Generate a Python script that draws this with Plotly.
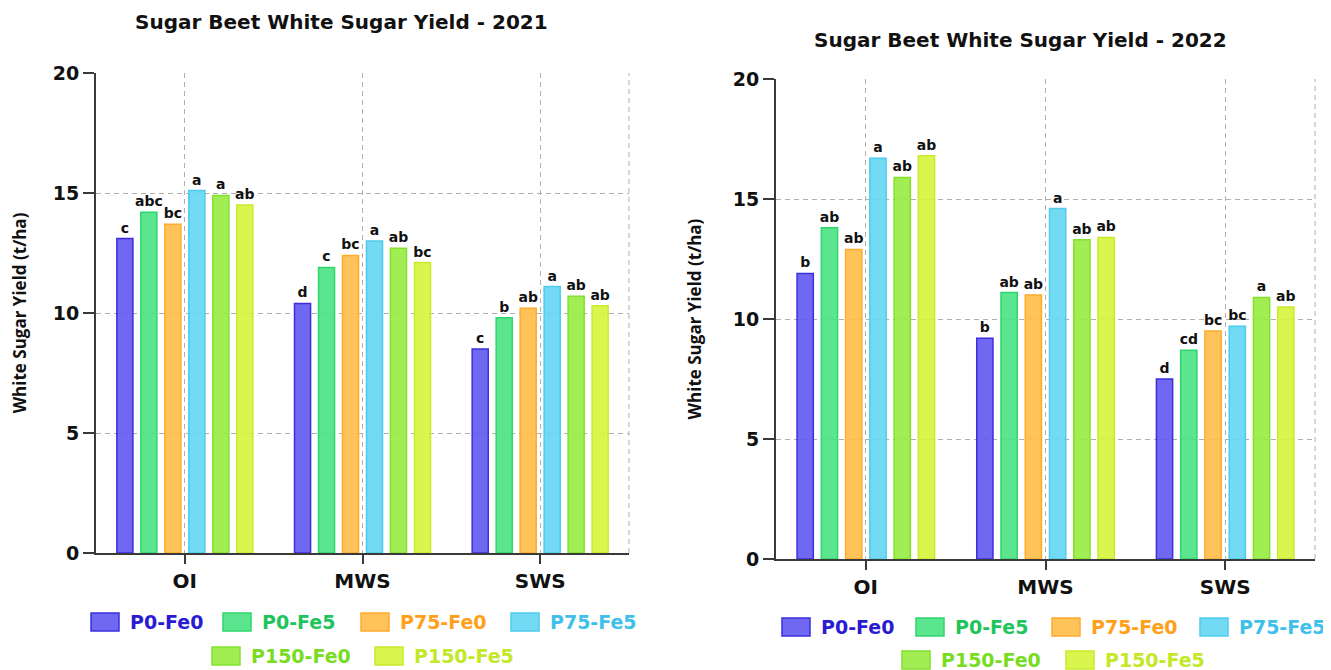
import plotly.graph_objects as go

# page is 1331x670; the html body has an 8px margin, so the figure spans the rest
PAGE_W, PAGE_H = 1331, 670
OFF = 8
W, H = PAGE_W - OFF, PAGE_H - OFF

categories = ["OI", "MWS", "SWS"]
treatments = ["P0-Fe0", "P0-Fe5", "P75-Fe0", "P75-Fe5", "P150-Fe0", "P150-Fe5"]

# 2021 values (t/ha), per treatment across OI, MWS, SWS
y2021_P0_Fe0 = [13.1, 10.4, 8.5]
y2021_P0_Fe5 = [14.2, 11.9, 9.8]
y2021_P75_Fe0 = [13.7, 12.4, 10.2]
y2021_P75_Fe5 = [15.1, 13.0, 11.1]
y2021_P150_Fe0 = [14.9, 12.7, 10.7]
y2021_P150_Fe5 = [14.5, 12.1, 10.3]

# 2022 values (t/ha)
y2022_P0_Fe0 = [11.9, 9.2, 7.5]
y2022_P0_Fe5 = [13.8, 11.1, 8.7]
y2022_P75_Fe0 = [12.9, 11.0, 9.5]
y2022_P75_Fe5 = [16.7, 14.6, 9.7]
y2022_P150_Fe0 = [15.9, 13.3, 10.9]
y2022_P150_Fe5 = [16.8, 13.4, 10.5]

# significance letters
l2021_P0_Fe0 = ["c", "d", "c"]
l2021_P0_Fe5 = ["abc", "c", "b"]
l2021_P75_Fe0 = ["bc", "bc", "ab"]
l2021_P75_Fe5 = ["a", "a", "a"]
l2021_P150_Fe0 = ["a", "ab", "ab"]
l2021_P150_Fe5 = ["ab", "bc", "ab"]

l2022_P0_Fe0 = ["b", "b", "d"]
l2022_P0_Fe5 = ["ab", "ab", "cd"]
l2022_P75_Fe0 = ["ab", "ab", "bc"]
l2022_P75_Fe5 = ["a", "a", "bc"]
l2022_P150_Fe0 = ["ab", "ab", "a"]
l2022_P150_Fe5 = ["ab", "ab", "ab"]

values_2021 = [y2021_P0_Fe0, y2021_P0_Fe5, y2021_P75_Fe0, y2021_P75_Fe5, y2021_P150_Fe0, y2021_P150_Fe5]
values_2022 = [y2022_P0_Fe0, y2022_P0_Fe5, y2022_P75_Fe0, y2022_P75_Fe5, y2022_P150_Fe0, y2022_P150_Fe5]
letters_2021 = [l2021_P0_Fe0, l2021_P0_Fe5, l2021_P75_Fe0, l2021_P75_Fe5, l2021_P150_Fe0, l2021_P150_Fe5]
letters_2022 = [l2022_P0_Fe0, l2022_P0_Fe5, l2022_P75_Fe0, l2022_P75_Fe5, l2022_P150_Fe0, l2022_P150_Fe5]

fill_colors = ["rgba(98,88,240,0.9)", "rgba(72,226,130,0.9)", "rgba(255,188,72,0.9)",
               "rgba(100,214,242,0.9)", "rgba(150,236,64,0.9)", "rgba(214,244,58,0.9)"]
line_colors = ["#3b2fde", "#2fd66e", "#ffab2e", "#4fcbee", "#84e02c", "#c6ec2c"]
text_colors = ["#2a1bd2", "#1fc45c", "#ffa01a", "#3ec0ea", "#78dc22", "#c2e828"]

DJ = "DejaVu Sans"


def px(x):
    """page pixel x -> paper fraction"""
    return (x - OFF) / W


def py(y):
    """page pixel y (from top) -> paper fraction"""
    return 1 - (y - OFF) / H


fig = go.Figure()

for i, name in enumerate(treatments):
    for vals, lets, xa, ya in [(values_2021, letters_2021, "x", "y"),
                               (values_2022, letters_2022, "x2", "y2")]:
        fig.add_trace(go.Bar(
            x=categories, y=vals[i], name=name, text=lets[i],
            textposition="outside", constraintext="none", cliponaxis=False,
            textfont=dict(family=DJ, size=14, color="#111", weight="bold"),
            marker=dict(color=fill_colors[i], line=dict(color=line_colors[i], width=1.5)),
            xaxis=xa, yaxis=ya, showlegend=False,
        ))

grid = dict(showgrid=True, gridcolor="#b0b0b0", gridwidth=1, griddash="5px,4px", automargin=False)


def yax(standoff):
    return dict(range=[0, 20], dtick=5, zeroline=False, showline=True, linecolor="#3a3a3a", linewidth=2,
                ticks="outside", ticklen=11, tickwidth=2, tickcolor="#3a3a3a",
                tickfont=dict(family=DJ, size=19, color="#111", weight="bold"),
                title=dict(text="White Sugar Yield (t/ha)",
                           font=dict(family="Open Sans", size=17, color="#111", weight="bold"),
                           standoff=standoff),
                **grid)


xax = dict(type="category", range=[-0.5, 2.5], showline=True, linecolor="#3a3a3a", linewidth=2,
           ticks="outside", ticklen=9, tickwidth=2, tickcolor="#3a3a3a",
           tickfont=dict(family=DJ, size=20, color="#111", weight="bold"), **grid)

fig.update_layout(
    width=W, height=H, margin=dict(l=0, r=0, t=0, b=0, autoexpand=False),
    paper_bgcolor="white", plot_bgcolor="white",
    barmode="group", bargap=0.19, bargroupgap=0.33,
    xaxis=dict(domain=[px(96), px(629)], anchor="y", **xax),
    yaxis=dict(domain=[py(553), py(73)], anchor="x", **yax(22)),
    xaxis2=dict(domain=[px(776), px(1315)], anchor="y2", **xax),
    yaxis2=dict(domain=[py(559), py(79)], anchor="x2", **yax(27)),
)

# right-side dashed borders
for xr, yr in [("x domain", "y domain"), ("x2 domain", "y2 domain")]:
    fig.add_shape(type="line", xref=xr, yref=yr, x0=1, x1=1, y0=0, y1=1,
                  line=dict(color="#b0b0b0", width=1, dash="5px,4px"), layer="below")

# titles
fig.add_annotation(text="Sugar Beet White Sugar Yield - 2021", x=px(342), y=py(22), xref="paper", yref="paper",
                   showarrow=False, font=dict(family=DJ, size=20, color="#111", weight="bold"),
                   xanchor="center", yanchor="middle")
fig.add_annotation(text="Sugar Beet White Sugar Yield - 2022", x=px(1020), y=py(40), xref="paper", yref="paper",
                   showarrow=False, font=dict(family=DJ, size=20, color="#111", weight="bold"),
                   xanchor="center", yanchor="middle")

# custom legends (two rows under each chart)
legend_layouts = [
    # (swatch left x positions per treatment, row y centers), page pixels
    ([91, 223, 361, 511, 212, 375], [622, 622, 622, 622, 656, 656]),
    ([782, 916, 1052, 1200, 902, 1066], [627, 627, 627, 627, 660, 660]),
]
for xs, ys in legend_layouts:
    for i, name in enumerate(treatments):
        x0, yc = xs[i], ys[i]
        fig.add_shape(type="rect", xref="paper", yref="paper",
                      x0=px(x0), x1=px(x0 + 28), y0=py(yc + 9), y1=py(yc - 9),
                      fillcolor=fill_colors[i], line=dict(color=line_colors[i], width=1.5))
        fig.add_annotation(text=name, x=px(x0 + 37), y=py(yc), xref="paper", yref="paper",
                           showarrow=False, xanchor="left", yanchor="middle",
                           font=dict(family=DJ, size=19, color=text_colors[i], weight="bold"))

fig.write_html("out.html")
